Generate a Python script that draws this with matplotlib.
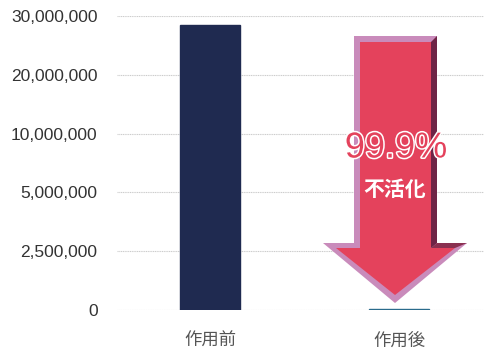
import matplotlib
matplotlib.use("Agg")
import matplotlib.pyplot as plt
import matplotlib.patheffects as pe
from matplotlib.patches import Polygon
from matplotlib import transforms
import numpy as np

plt.rcParams["font.family"] = ["Liberation Sans", "Noto Sans CJK JP", "DejaVu Sans"]

categories = ["作用前", "作用後"]
values = [28500000, 28500]          # 作用後 = 0.1% 残存
bar_colors = ["#1f2a50", "#2a6b8c"]
tick_values = [0, 2500000, 5000000, 10000000, 20000000, 30000000]
tick_labels = ["0", "2,500,000", "5,000,000", "10,000,000", "20,000,000", "30,000,000"]
reduction_label = "99.9%"
reduction_text = "不活化"

W, H = 485, 350
fig = plt.figure(figsize=(W / 100, H / 100), dpi=100)
ax = fig.add_axes([117 / W, 1 - 310 / H, 1 - 117 / W, (310 - 16) / H])

# 目盛りが等間隔に並ぶ区分線形スケール
pos = np.arange(len(tick_values), dtype=float)
ax.set_yscale("function", functions=(lambda v: np.interp(v, tick_values, pos),
                                     lambda p: np.interp(p, pos, tick_values)))
ax.set_ylim(0, tick_values[-1])

x = np.arange(len(categories))
# 作用後はごく小さい値なので、細い線として見えるよう縁取りを付ける
ax.bar(x, values, width=0.32, color=bar_colors, edgecolor=bar_colors,
       linewidth=1.0, zorder=2)

ax.set_yticks(tick_values)
ax.set_yticklabels(tick_labels)
ax.set_xticks(x)
ax.set_xticklabels(categories)
ax.set_xlim(-0.492, 1.455)
ax.tick_params(axis="y", length=0, pad=14, labelsize=12.5, labelcolor="#333333")
ax.tick_params(axis="x", length=0, pad=16, labelsize=12.5, labelcolor="#555555")
ax.grid(axis="y", color="#cccccc", linewidth=0.8, linestyle=(0, (1, 0.6)), zorder=0)
for s in ax.spines.values():
    s.set_visible(False)

# --- 下向き矢印（装飾、ピクセル座標で配置）---
px = transforms.Affine2D().scale(1 / W, -1 / H).translate(0, 1) + fig.transFigure

def arrow_shape(l, r, top, hl, hr, htop, tipx, tipy):
    return [(l, top), (r, top), (r, htop), (hr, htop), (tipx, tipy),
            (hl, htop), (l, htop)]

outer = arrow_shape(354, 437, 36, 323, 467, 243, 395, 303)
inner = arrow_shape(360, 431, 42, 336, 455, 248, 395, 295)
fig.patches.append(Polygon(outer, closed=True, transform=px, facecolor="#c98bbb",
                           edgecolor="none", zorder=3))
dark_side = [(431, 42), (437, 36), (437, 243), (431, 248)]
fig.patches.append(Polygon(dark_side, closed=True, transform=px, facecolor="#6e2446",
                           edgecolor="none", zorder=3))
dark_head = [(437, 243), (467, 243), (455, 248), (431, 248)]
fig.patches.append(Polygon(dark_head, closed=True, transform=px, facecolor="#8a3050",
                           edgecolor="none", zorder=3))
fig.patches.append(Polygon(inner, closed=True, transform=px, facecolor="#e4425c",
                           edgecolor="none", zorder=4))

fig.text(396 / W, 1 - 148 / H, reduction_label, ha="center", va="center",
         fontsize=26, color="#e4425c", zorder=6,
         path_effects=[pe.withStroke(linewidth=2.2, foreground="white")])
fig.text(395 / W, 1 - 189 / H, reduction_text, ha="center", va="center",
         fontsize=15, fontweight="bold", color="white", zorder=6,
         family=["Noto Sans CJK JP"])

fig.savefig("out.png", dpi=100)
